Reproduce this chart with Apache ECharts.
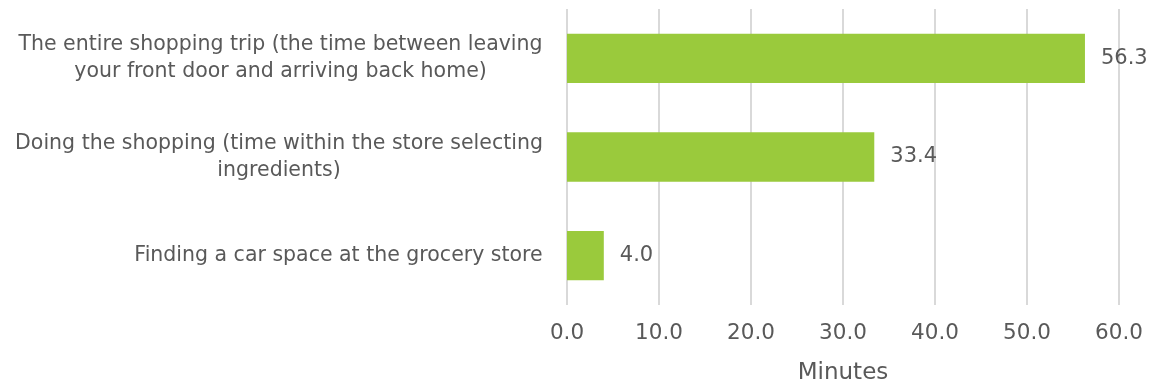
<!DOCTYPE html>
<html><head><meta charset="utf-8">
<script src="https://cdn.jsdelivr.net/npm/echarts@6/dist/echarts.min.js"></script>
<style>html,body{margin:0;padding:0;background:#fff}#c{width:1150px;height:385px}</style>
</head><body><div id="c"></div>
<script>
const categories = [
  "The entire shopping trip (the time between leaving\nyour front door and arriving back home)",
  "Doing the shopping (time within the store selecting\ningredients)",
  "Finding a car space at the grocery store"
];
const values = [56.3, 33.4, 4.0];
const xTicks = [0, 10, 20, 30, 40, 50, 60];
const axisTitle = "Minutes";

const FONT = '"DejaVu Sans", sans-serif';
const FS = 20.5;
const TXT = '#595959';
const cv = document.createElement('canvas').getContext('2d');
cv.font = FS + 'px ' + FONT;
function w(s){ return Math.ceil(cv.measureText(s).width); }
const rich = {};
categories.forEach((c, i) => {
  const mw = Math.max.apply(null, c.split('\n').map(w));
  rich['c' + i] = {color: TXT, fontSize: FS, fontFamily: FONT, lineHeight: 27, width: mw, align: 'center'};
});

const chart = echarts.init(document.getElementById('c'));
chart.setOption({
  animation: false,
  grid: {left: 567, right: 31, top: 9, bottom: 80, containLabel: false, outerBoundsMode: 'none'},
  xAxis: {
    type: 'value', min: xTicks[0], max: xTicks[xTicks.length-1], interval: xTicks[1]-xTicks[0],
    name: axisTitle, nameLocation: 'middle', nameGap: 57,
    nameTextStyle: {color: TXT, fontSize: 23, fontFamily: FONT},
    axisLine: {show: false}, axisTick: {show: false},
    splitLine: {lineStyle: {color: '#d9d9d9', width: 2}},
    axisLabel: {color: TXT, fontSize: 21.5, fontFamily: FONT, margin: 17,
      formatter: v => v.toFixed(1)}
  },
  yAxis: {
    type: 'category', data: categories, inverse: true,
    axisLine: {show: false}, axisTick: {show: false},
    axisLabel: {
      margin: 24, color: TXT, fontSize: FS, fontFamily: FONT, lineHeight: 27,
      formatter: function(v, i){
        return v.split('\n').map(l => '{c' + i + '|' + l + '}').join('\n');
      },
      rich: rich
    }
  },
  series: [{
    type: 'bar', data: values, barWidth: '50%',
    itemStyle: {color: '#9aca3c'},
    label: {show: true, position: 'right', distance: 16, color: TXT, fontSize: 21, fontFamily: FONT,
      formatter: p => p.value.toFixed(1)}
  }]
});
</script></body></html>
